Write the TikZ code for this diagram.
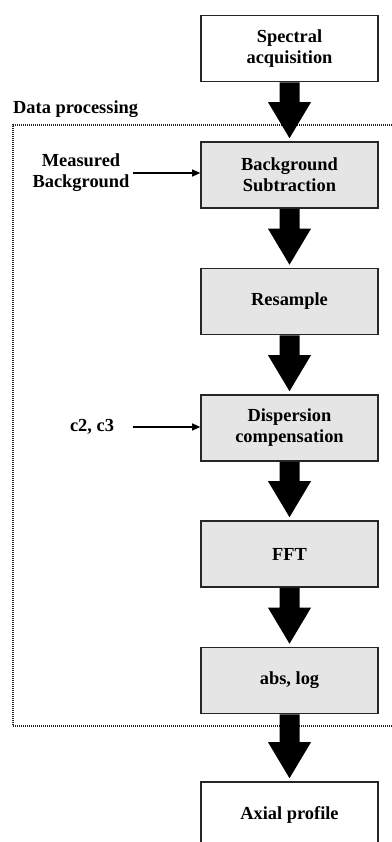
\documentclass[tikz,border=0pt]{standalone}
\usepackage{fontspec}
\setmainfont{Liberation Serif}
\usetikzlibrary{calc,arrows.meta}
\begin{document}
\begin{tikzpicture}[x=1pt,y=-1pt,
  box/.style={draw=black!85,line width=1.6pt,minimum width=177pt,minimum height=66pt,inner sep=0pt,align=center,font=\fontsize{18.4}{21}\selectfont\bfseries},
  procbox/.style={box,fill=black!10},
  lbl/.style={align=center,font=\fontsize{18.4}{21}\selectfont\bfseries},
  thin/.style={line width=1.2pt,-{Triangle[length=8pt,width=7pt]}},
  frame/.style={line width=1.3pt,dash pattern=on 1pt off 1pt,black!85}]
\useasboundingbox (0,0) rectangle (391,842);
\newcommand{\bigarr}[2]{%
  \fill ($(#1.south)+(-10,0)$) -- ($(#2.north)+(-10,-39)$) -- ($(#2.north)+(-21.5,-39)$) -- ($(#2.north)+(0,-3)$)
   -- ($(#2.north)+(21.5,-39)$) -- ($(#2.north)+(10,-39)$) -- ($(#1.south)+(10,0)$) -- cycle;}
% dotted frame
\draw[frame] (396,125) -- (13,125) -- (13,726) -- (396,726);
\node[lbl,anchor=base west,inner sep=0pt] (dp) at (13,114) {Data processing};
\node[box] (a) at (289.5,48.5) {Spectral\\acquisition};
\node[procbox] (b) at (289.5,175) {Background\\Subtraction};
\node[procbox] (c) at (289.5,301.5) {Resample};
\node[procbox] (d) at (289.5,428) {Dispersion\\compensation};
\node[procbox] (e) at (289.5,554) {FFT};
\node[procbox] (f) at (289.5,680.5) {abs, log};
\node[box] (g) at (289.5,815) {Axial profile};
\bigarr{a}{b}
\bigarr{b}{c}
\bigarr{c}{d}
\bigarr{d}{e}
\bigarr{e}{f}
\bigarr{f}{g}
\node[lbl,inner sep=0pt] (mb) at (81,173) {Measured\\Background};
\node[lbl,inner sep=0pt] (cc) at (92,427) {c2, c3};
\coordinate (mbs) at (133,173);
\coordinate (ccs) at (133,427);
\draw[thin] (mbs) -- (b.west |- mbs);
\draw[thin] (ccs) -- (d.west |- ccs);
\end{tikzpicture}
\end{document}
